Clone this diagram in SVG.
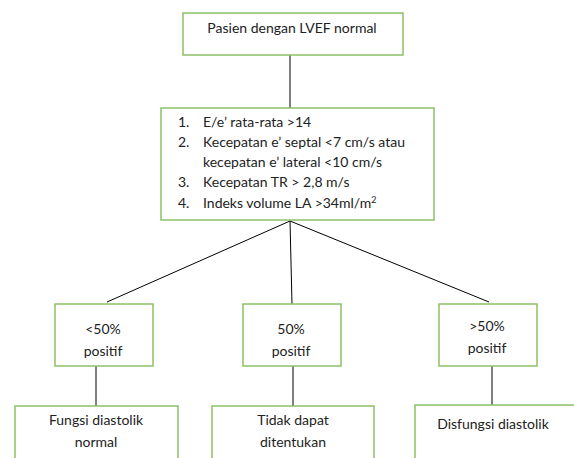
<svg xmlns="http://www.w3.org/2000/svg" width="574" height="458" viewBox="0 0 574 458">
<style>
.box{fill:#fff;stroke:#8cc168;stroke-width:1.5}
.t{font-family:Lato,"Open Sans",sans-serif;font-size:14px;fill:#222}
.c{text-anchor:middle}
.ln{stroke:#000;stroke-width:1;fill:none}
</style>
<rect width="574" height="458" fill="#fff"/>
<g id="connectors">
<line class="ln" x1="290" y1="55" x2="290" y2="108"/>
<line class="ln" x1="290" y1="221" x2="107" y2="302"/>
<line class="ln" x1="290" y1="221" x2="292" y2="304"/>
<line class="ln" x1="290" y1="221" x2="489" y2="302"/>
<line class="ln" x1="96" y1="366" x2="96" y2="406"/>
<line class="ln" x1="293" y1="366" x2="293" y2="406"/>
<line class="ln" x1="492" y1="366" x2="492" y2="405"/>
</g>
<g id="start">
<rect class="box" x="183" y="13" width="220" height="42"/>
<text class="t c" x="292" y="33">Pasien dengan LVEF normal</text>
</g>
<g id="criteria">
<rect class="box" x="161" y="108" width="273" height="112"/>
<text class="t" x="178" y="127">1.</text><text class="t" x="203" y="127">E/e’ rata-rata &gt;14</text>
<text class="t" x="178" y="147">2.</text><text class="t" x="203" y="147">Kecepatan e’ septal &lt;7 cm/s atau</text>
<text class="t" x="203" y="167">kecepatan e’ lateral &lt;10 cm/s</text>
<text class="t" x="178" y="187">3.</text><text class="t" x="203" y="187">Kecepatan TR &gt; 2,8 m/s</text>
<text class="t" x="178" y="208">4.</text><text class="t" x="203" y="208">Indeks volume LA &gt;34ml/m<tspan font-size="9" dy="-5">2</tspan></text>
</g>
<g id="lt50">
<rect class="box" x="55" y="304" width="98" height="62"/>
<text class="t c" x="103" y="334">&lt;50%</text>
<text class="t c" x="103" y="356">positif</text>
</g>
<g id="eq50">
<rect class="box" x="243" y="304" width="98" height="62"/>
<text class="t c" x="291" y="334">50%</text>
<text class="t c" x="291" y="356">positif</text>
</g>
<g id="gt50">
<rect class="box" x="439" y="304" width="98" height="62"/>
<text class="t c" x="487" y="331">&gt;50%</text>
<text class="t c" x="487" y="353">positif</text>
</g>
<g id="normal">
<rect class="box" x="15" y="406" width="163" height="60"/>
<text class="t c" x="96" y="425">Fungsi diastolik</text>
<text class="t c" x="96" y="447">normal</text>
</g>
<g id="undetermined">
<rect class="box" x="212" y="406" width="162" height="60"/>
<text class="t c" x="293" y="425">Tidak dapat</text>
<text class="t c" x="293" y="447">ditentukan</text>
</g>
<g id="dysfunction">
<rect class="box" x="415" y="405" width="170" height="60"/>
<text class="t c" x="493" y="429">Disfungsi diastolik</text>
</g>
</svg>
